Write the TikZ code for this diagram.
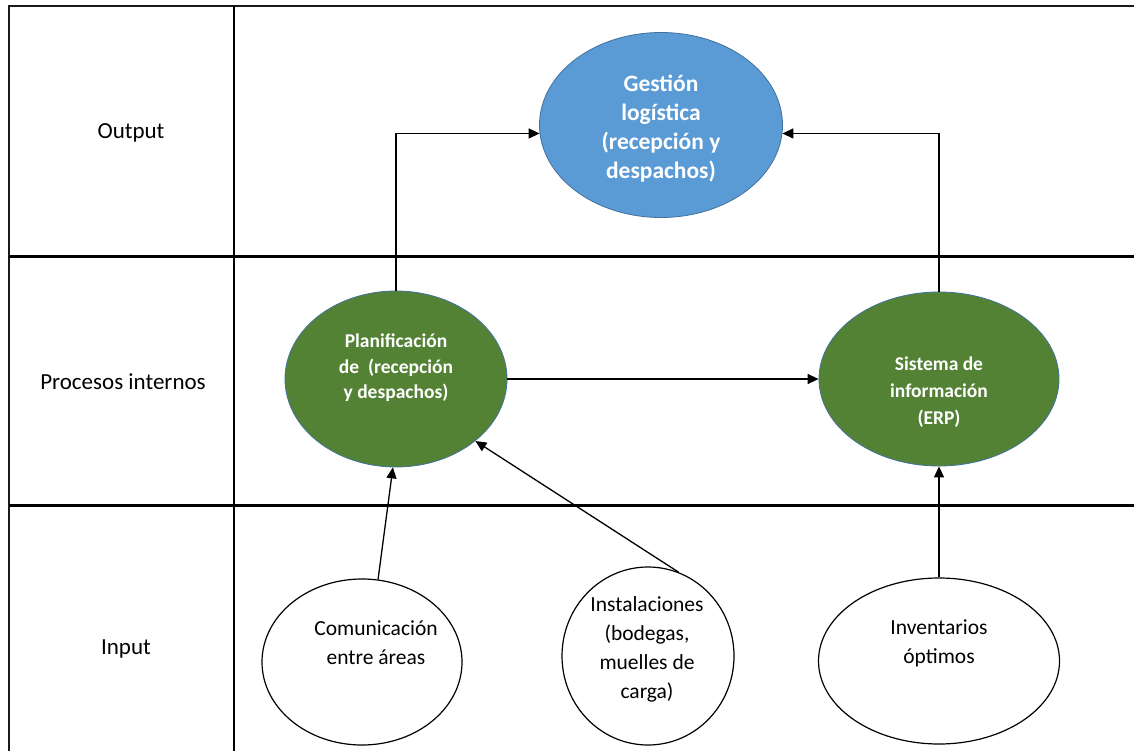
\documentclass[tikz,border=0pt]{standalone}
\usepackage{fontspec}
\setmainfont{Carlito}
\usetikzlibrary{arrows.meta,shapes.geometric}

\definecolor{gridline}{HTML}{1A1A1A}
\definecolor{outblue}{HTML}{5B9BD5}
\definecolor{procgreen}{HTML}{548235}
\definecolor{rimblue}{HTML}{41719C}

\tikzset{
  gridthin/.style={draw=gridline, line width=1.6pt},
  gridthick/.style={draw=black, line width=3pt},
  outcome/.style={ellipse, fill=outblue, draw=rimblue, line width=0.8pt},
  process/.style={ellipse, fill=procgreen, draw=rimblue, line width=0.8pt},
  source/.style={ellipse, fill=white, draw=black, line width=1.2pt},
  whitetext/.style={text=white, align=center},
  blacktext/.style={text=black, align=center, font=\fontsize{21.5}{29}\selectfont},
  rowlabel/.style={font=\fontsize{23}{27}\selectfont},
  link/.style={draw=black, line width=1.3pt, -{Triangle[length=11pt,width=10pt]}}
}

\begin{document}
\begin{tikzpicture}[x=1pt,y=-1pt]
  \useasboundingbox (0,0) rectangle (1134,751);
  \fill[white] (0,0) rectangle (1134,751);

  % table frame
  \draw[gridthin] (9,751) -- (9,6) -- (1134,6);
  \draw[gridthick, line width=2.6pt] (234,6) -- (234,751);
  \draw[gridthick] (9,256) -- (1134,256);
  \draw[gridthick] (9,505) -- (1134,505);

  % row labels
  \node[rowlabel] (lout) at (131,133) {Output};
  \node[rowlabel] (lproc) at (123,382) {Procesos internos};
  \node[rowlabel] (lin) at (126,649) {Input};

  % output
  \node[outcome, minimum width=243pt, minimum height=185pt] (G) at (661,125) {};
  \node[whitetext, font=\bfseries\fontsize{23.5}{29}\selectfont] (Gt) at (661,129)
    {Gestión\\logística\\(recepción y\\despachos)};

  % internal processes
  \node[process, minimum width=222pt, minimum height=176pt] (P) at (396,379) {};
  \node[whitetext, font=\bfseries\fontsize{19.5}{25.5}\selectfont] (Pt) at (396,368)
    {Planificación\\de~~(recepción\\y despachos)};

  \node[process, minimum width=240pt, minimum height=174pt] (S) at (939,379) {};
  \node[whitetext, font=\bfseries\fontsize{19.5}{27}\selectfont] (St) at (939,392)
    {Sistema de\\información\\(ERP)};

  % inputs
  \node[source, minimum width=200pt, minimum height=166pt] (C) at (362,662) {};
  \node[blacktext] (Ct) at (376,643) {Comunicación\\entre áreas};

  \node[source, minimum width=172pt, minimum height=178pt] (I) at (648,656) {};
  \node[blacktext] (It) at (647,649) {Instalaciones\\(bodegas,\\muelles de\\carga)};

  \node[source, minimum width=241pt, minimum height=166pt] (V) at (939,661) {};
  \node[blacktext] (Vt) at (939,643) {Inventarios\\óptimos};

  % connectors
  \draw[link] (P.north) |- (G.184.5);
  \draw[link] (S.north) |- (G.-4.5);
  \draw[link] (P.east) -- (S.west);
  \draw[link] (C.79) -- (P.268);
  \draw[link] (I.70) -- (P.-38);
  \draw[link] (V.north) -- (S.south);
\end{tikzpicture}
\end{document}
